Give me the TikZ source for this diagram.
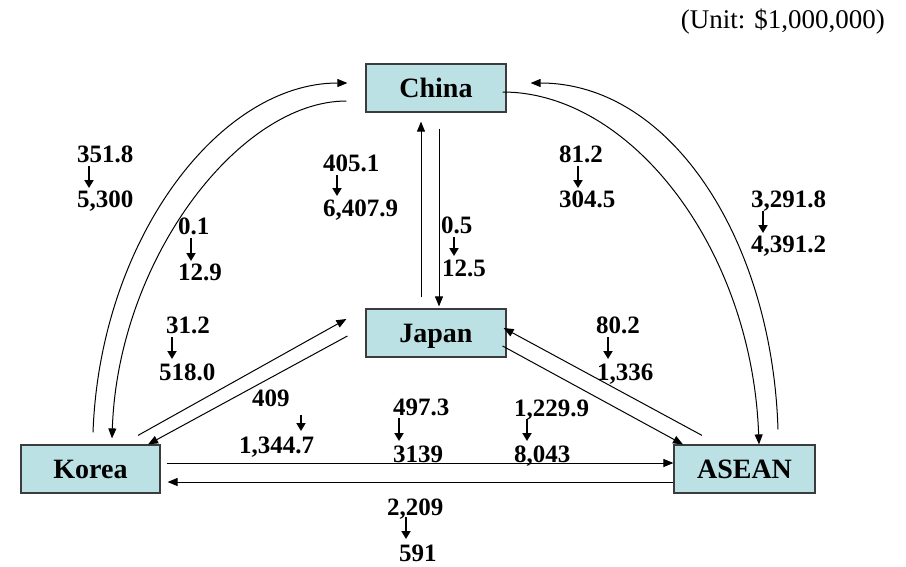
\documentclass[tikz,border=0pt]{standalone}
\usepackage{fontspec}
\setmainfont{Liberation Serif}
\usetikzlibrary{arrows.meta}
\definecolor{boxfill}{RGB}{187,225,228}
\definecolor{boxedge}{RGB}{60,60,60}
\tikzset{
  region/.style={draw=boxedge, line width=1.2pt, fill=boxfill,
    minimum height=48pt, inner sep=0pt, text height=19pt, text depth=0pt,
    font=\fontsize{28}{30}\selectfont\bfseries},
  conn/.style={line width=1pt, -{Triangle[length=10pt,width=8pt]}},
  figure/.style={anchor=base west, inner sep=0pt,
    font=\fontsize{25}{27}\selectfont\bfseries},
  change/.style={line width=1.8pt, -{Triangle[length=8pt,width=9pt]}},
}
\begin{document}
\begin{tikzpicture}[x=1pt, y=-1pt]
\useasboundingbox (0,0) rectangle (906,566);

% unit note
\node[anchor=base east, inner sep=0pt, font=\fontsize{27}{29}\selectfont]
  (unit) at (885,28) {(Unit: \$1,000,000)};

% regions
\node[region, minimum width=140pt] (china) at (436,88)    {China};
\node[region, minimum width=140pt] (japan) at (436,333)   {Japan};
\node[region, minimum width=139pt] (korea) at (90.5,469)  {Korea};
\node[region, minimum width=141pt] (asean) at (744.5,469) {ASEAN};

% China <-> Japan
\draw[conn] ([shift={(-15,-11)}]japan.north) -- ([shift={(-15,9)}]china.south);
\draw[conn] ([shift={(3,16)}]china.south) -- ([shift={(3,-2)}]japan.north);

% China <-> Korea
\draw[conn] ([shift={(2.5,-12)}]korea.north)
  .. controls +(7,-193) and +(-128,0) .. ([shift={(-18,-5)}]china.west);
\draw[conn] ([shift={(-19,13)}]china.west)
  .. controls +(-107,0) and +(6,-179) .. ([shift={(21.5,-6)}]korea.north);

% China <-> ASEAN
\draw[conn] ([shift={(33.5,-15)}]asean.north)
  .. controls +(-6,-190) and +(140,0) .. ([shift={(24,-5)}]china.east);
\draw[conn] ([shift={(-4,4)}]china.east)
  .. controls +(128,0) and +(-7,-196) .. ([shift={(14.5,0)}]asean.north);

% Korea <-> Japan
\draw[conn] ([shift={(47.5,-9)}]korea.north) -- ([shift={(-19,-14)}]japan.west);
\draw[conn] ([shift={(-18,3)}]japan.west) -- ([shift={(57.5,0)}]korea.north);

% Japan <-> ASEAN
\draw[conn] ([shift={(-42.5,-9)}]asean.north) -- ([shift={(-3,-5)}]japan.east);
\draw[conn] ([shift={(-4,13)}]japan.east) -- ([shift={(-61.5,0)}]asean.north);

% Korea <-> ASEAN
\draw[conn] ([shift={(6,-6)}]korea.east) -- ([shift={(0,-6)}]asean.west);
\draw[conn] ([shift={(0,13)}]asean.west) -- ([shift={(7,13)}]korea.east);

% flow figures: earlier value, arrow, later value
\node[figure] (f1a) at (77,162) {351.8};
\node[figure] (f1b) at (77,207) {5,300};
\draw[change] ([shift={(12,4)}]f1a.base west) -- ([shift={(12,-19)}]f1b.base west);

\node[figure] (f2a) at (178,234) {0.1};
\node[figure] (f2b) at (178,280) {12.9};
\draw[change] ([shift={(13,4)}]f2a.base west) -- ([shift={(13,-19)}]f2b.base west);

\node[figure] (f3a) at (323,171) {405.1};
\node[figure] (f3b) at (323,216) {6,407.9};
\draw[change] ([shift={(14,4)}]f3a.base west) -- ([shift={(14,-20)}]f3b.base west);

\node[figure] (f4a) at (441,233) {0.5};
\node[figure] (f4b) at (442,276) {12.5};
\draw[change] ([shift={(13,4)}]f4a.base west) -- ([shift={(12,-20)}]f4b.base west);

\node[figure] (f5a) at (559,162) {81.2};
\node[figure] (f5b) at (559,207) {304.5};
\draw[change] ([shift={(19,4)}]f5a.base west) -- ([shift={(19,-19)}]f5b.base west);

\node[figure] (f6a) at (751,207) {3,291.8};
\node[figure] (f6b) at (751,252) {4,391.2};
\draw[change] ([shift={(12,4)}]f6a.base west) -- ([shift={(12,-19)}]f6b.base west);

\node[figure] (f7a) at (166,333) {31.2};
\node[figure] (f7b) at (159,380) {518.0};
\draw[change] ([shift={(6,4)}]f7a.base west) -- ([shift={(13,-21)}]f7b.base west);

\node[figure] (f8a) at (252,406) {409};
\node[figure] (f8b) at (239,453) {1,344.7};
\draw[change] ([shift={(49,9)}]f8a.base west) -- ([shift={(62,-22)}]f8b.base west);

\node[figure] (f9a) at (393,415) {497.3};
\node[figure] (f9b) at (393,462) {3139};
\draw[change] ([shift={(6,3)}]f9a.base west) -- ([shift={(6,-21)}]f9b.base west);

\node[figure] (f10a) at (514,416) {1,229.9};
\node[figure] (f10b) at (514,462) {8,043};
\draw[change] ([shift={(13,3)}]f10a.base west) -- ([shift={(13,-21)}]f10b.base west);

\node[figure] (f11a) at (596,333) {80.2};
\node[figure] (f11b) at (597,380) {1,336};
\draw[change] ([shift={(12,4)}]f11a.base west) -- ([shift={(11,-21)}]f11b.base west);

\node[figure] (f12a) at (387,515) {2,209};
\node[figure] (f12b) at (399,561) {591};
\draw[change] ([shift={(19,2)}]f12a.base west) -- ([shift={(7,-22)}]f12b.base west);
\end{tikzpicture}
\end{document}
